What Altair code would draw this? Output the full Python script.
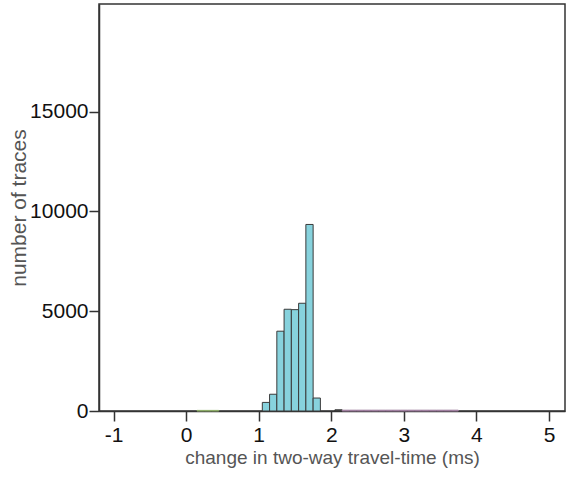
import altair as alt
import pandas as pd

# main histogram (bins of 0.1 ms)
main_start = [1.05, 1.15, 1.25, 1.35, 1.45, 1.55, 1.65, 1.75]
main_count = [430, 840, 4000, 5100, 5080, 5400, 9350, 650]

# tiny secondary histograms
green_start = [0.15, 0.25, 0.35]
green_count = [30, 30, 30]
dark_start = [2.05]
dark_count = [60]
pink_start = [2.15, 2.25, 2.35, 2.45, 2.55, 2.65, 2.75, 2.85, 2.95, 3.05,
              3.15, 3.25, 3.35, 3.45, 3.55, 3.65]
pink_count = [40] * 16

x_ticks = [-1, 0, 1, 2, 3, 4, 5]
y_ticks = [0, 5000, 10000, 15000]

def frame(starts, counts, series):
    return pd.DataFrame({
        "x0": starts,
        "x1": [s + 0.1 for s in starts],
        "count": counts,
        "series": series,
    })

df = pd.concat([
    frame(green_start, green_count, "green"),
    frame(dark_start, dark_count, "dark"),
    frame(pink_start, pink_count, "pink"),
    frame(main_start, main_count, "main"),
])

xs = alt.Scale(domain=[-1.2, 5.22], nice=False, zero=False)
ys = alt.Scale(domain=[0, 20400], nice=False)

bars = alt.Chart(df).mark_rect(strokeWidth=1).encode(
    x=alt.X("x0:Q", scale=xs,
            axis=alt.Axis(values=x_ticks, title="change in two-way travel-time (ms)",
                          labelExpr="'' + datum.value", grid=False,
                          titleFontSize=19, titlePadding=3, labelPadding=3)),
    x2="x1:Q",
    y=alt.Y("count:Q", scale=ys,
            axis=alt.Axis(values=y_ticks, title="number of traces", format="d", grid=False,
                          titleFontSize=21, titlePadding=0, labelPadding=1)),
    y2=alt.datum(0),
    fill=alt.Color("series:N", legend=None,
                   scale=alt.Scale(domain=["main", "green", "dark", "pink"],
                                   range=["#87d2dd", "#a9c27c", "#555555", "#e0b2e0"])),
    stroke=alt.Stroke("series:N", legend=None,
                      scale=alt.Scale(domain=["main", "green", "dark", "pink"],
                                      range=["#3a3a3a", "#8fae6a", "#333333", "#9a7a9a"])),
)

chart = bars.properties(
    width=466, height=407,
    autosize=alt.AutoSizeParams(type="none"),
    padding={"left": 99, "top": 4, "right": 3, "bottom": 66},
).configure_view(
    stroke="#333333", strokeWidth=1.5
).configure_axis(
    domainColor="#333333", domainWidth=1.5, tickColor="#333333", tickWidth=1.5,
    tickSize=10, labelFont="Liberation Sans", labelFontSize=21, labelColor="#111111",
    titleFont="Liberation Sans", titleColor="#555555",
    titleFontWeight="normal",
)

chart.save("out.html", embed_options={"renderer": "svg", "actions": False})
